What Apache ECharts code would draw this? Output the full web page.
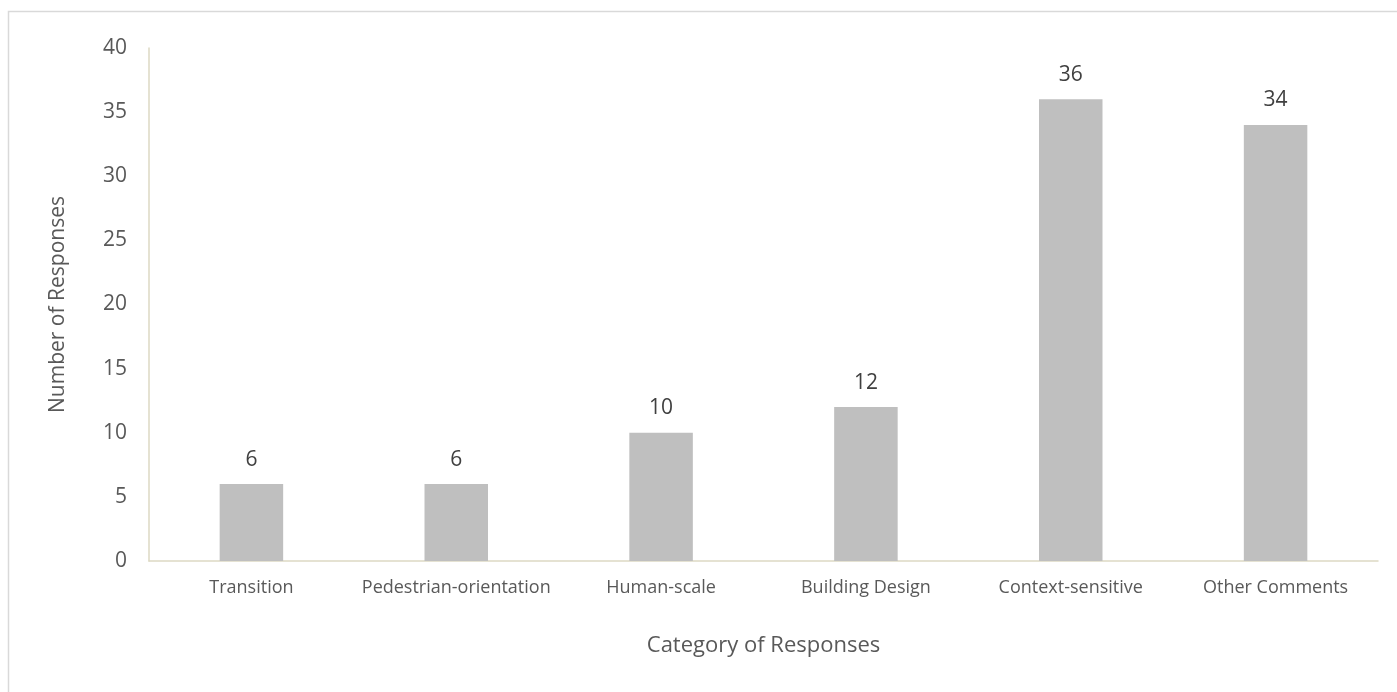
<!DOCTYPE html>
<html>
<head>
<meta charset="utf-8">
<script src="https://cdn.jsdelivr.net/npm/echarts@6/dist/echarts.min.js"></script>
<style>
html,body{margin:0;padding:0;background:#fff;}
#chart{width:1397px;height:692px;}
</style>
</head>
<body>
<div id="chart"></div>
<script>
const categories = ["Transition", "Pedestrian-orientation", "Human-scale", "Building Design", "Context-sensitive", "Other Comments"];
const responses = [6, 6, 10, 12, 36, 34];
const yTicks = [0, 5, 10, 15, 20, 25, 30, 35, 40];

const chart = echarts.init(document.getElementById('chart'));
const font = '"Open Sans", "Liberation Sans", sans-serif';
chart.setOption({
  animation: false,
  textStyle: { fontFamily: font },
  graphic: [{
    type: 'rect',
    shape: { x: 8.5, y: 11.5, width: 1500, height: 800 },
    style: { fill: 'none', stroke: '#D9D9D9', lineWidth: 1.5 },
    silent: true
  }],
  grid: { left: 149, right: 19, top: 48, bottom: 131, containLabel: false },
  xAxis: {
    type: 'category',
    data: categories,
    name: 'Category of Responses',
    nameLocation: 'middle',
    nameGap: 74,
    nameTextStyle: { fontSize: 22, color: '#595959', fontFamily: font },
    axisLine: { lineStyle: { color: '#DDD9C3', width: 1.5 } },
    axisTick: { show: false },
    axisLabel: { fontSize: 18, color: '#595959', margin: 18, interval: 0, fontFamily: font }
  },
  yAxis: {
    type: 'value',
    min: yTicks[0],
    max: yTicks[yTicks.length - 1],
    interval: 5,
    name: 'Number of Responses',
    nameLocation: 'middle',
    nameGap: 80,
    nameTextStyle: { fontSize: 21, color: '#595959', fontFamily: font },
    axisLine: { show: true, lineStyle: { color: '#DDD9C3', width: 1.5 } },
    axisTick: { show: false },
    splitLine: { show: false },
    axisLabel: { fontSize: 21, color: '#595959', margin: 22, fontFamily: font }
  },
  series: [{
    type: 'bar',
    data: responses,
    barWidth: '31%',
    itemStyle: { color: '#BFBFBF' },
    label: { show: true, position: 'top', distance: 14, fontSize: 21, color: '#404040', fontFamily: font }
  }]
});
</script>
</body>
</html>
